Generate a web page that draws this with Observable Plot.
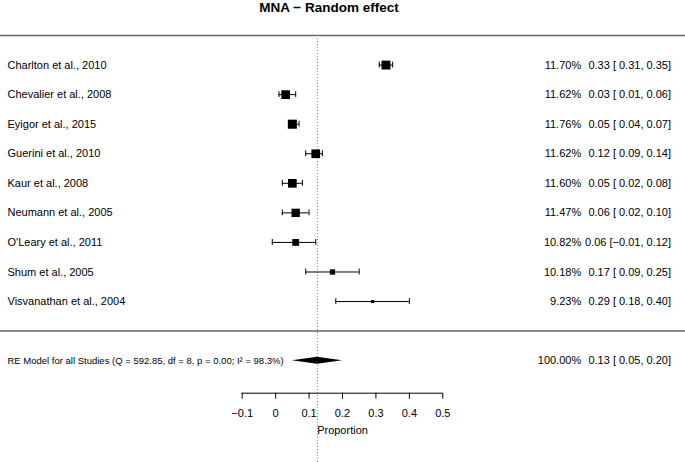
<!DOCTYPE html>
<html>
<head>
<meta charset="utf-8">
<script src="https://cdn.jsdelivr.net/npm/d3@7"></script>
<script src="https://cdn.jsdelivr.net/npm/@observablehq/plot@0.6"></script>
<style>
  body { margin: 0; background: #fff; font-family: "Liberation Sans", Arial, sans-serif; }
  #title { width: 658px; height: 16px; line-height: 16px; text-align: center; font-weight: bold; font-size: 13.5px; color: #000; }
</style>
</head>
<body>
<div id="title">MNA − Random effect</div>
<div id="chart"></div>
<script>
// ---- data ----
const studies = [
  "Charlton et al., 2010",
  "Chevalier et al., 2008",
  "Eyigor et al., 2015",
  "Guerini et al., 2010",
  "Kaur et al., 2008",
  "Neumann et al., 2005",
  "O'Leary et al., 2011",
  "Shum et al., 2005",
  "Visvanathan et al., 2004"
];
const estimates = [0.33, 0.03, 0.05, 0.12, 0.05, 0.06, 0.06, 0.17, 0.29];
const lower     = [0.31, 0.01, 0.04, 0.09, 0.02, 0.02, -0.01, 0.09, 0.18];
const upper     = [0.35, 0.06, 0.07, 0.14, 0.08, 0.10, 0.12, 0.25, 0.40];
const weights   = [11.70, 11.62, 11.76, 11.62, 11.60, 11.47, 10.82, 10.18, 9.23];

const summaryLabel = "RE Model for all Studies (Q = 592.85, df = 8, p = 0.00; I² = 98.3%)";
const summaryEstimate = 0.125;
const summaryLower = 0.05;
const summaryUpper = 0.20;
const summaryWeight = 100;

const xTicks = [-0.1, 0, 0.1, 0.2, 0.3, 0.4, 0.5];
const xLabel = "Proportion";

// ---- derived tables ----
const fmtLow = v => (v < 0 ? "−" : " ") + Math.abs(v).toFixed(2);
const ciText = (e, l, u) => `${e.toFixed(2)} [${fmtLow(l)}, ${u.toFixed(2)}]`;

const rows = studies.map((s, i) => ({
  study: s, row: i + 1, est: estimates[i], lb: lower[i], ub: upper[i], w: weights[i],
  wText: weights[i].toFixed(2) + "%", ci: ciText(estimates[i], lower[i], upper[i])
}));
const summaryRow = studies.length + 2;
const sepRows = [0, studies.length + 1];
const summary = [{
  label: summaryLabel, row: summaryRow,
  wText: summaryWeight.toFixed(2) + "%", ci: ciText(summaryEstimate, summaryLower, summaryUpper)
}];
const diamondHalf = 0.12;
const diamond = [
  {x: summaryLower, y1: summaryRow, y2: summaryRow},
  {x: summaryEstimate, y1: summaryRow - diamondHalf, y2: summaryRow + diamondHalf},
  {x: summaryUpper, y1: summaryRow, y2: summaryRow}
];
const capHalf = 0.1;
const axisRow = 12.1;

const W = 685, H = 446, mTop = 19, mBottom = 69.3;
const font = "'Liberation Sans', Arial, sans-serif";

const chart = Plot.plot({
  width: W, height: H,
  marginTop: mTop, marginBottom: mBottom, marginLeft: 0, marginRight: 0,
  style: {fontFamily: font, fontSize: "11px", color: "#000", background: "#fff"},
  x: {domain: [xTicks[0], xTicks[xTicks.length - 1]], range: [241.7, 442.3]},
  y: {domain: [0, axisRow], reverse: true, axis: null},
  r: {type: "linear", domain: d3.extent(weights), range: [1.7, 5.1]},
  marks: [
    Plot.ruleY(sepRows, {stroke: "#666", strokeWidth: 1.5}),
    Plot.ruleX([summaryEstimate], {stroke: "#888", strokeDasharray: "1,2", insetBottom: -mBottom}),
    Plot.ruleY(rows, {y: "row", x1: "lb", x2: "ub", stroke: "#000"}),
    Plot.ruleX(rows, {x: "lb", y1: d => d.row - capHalf, y2: d => d.row + capHalf, stroke: "#000"}),
    Plot.ruleX(rows, {x: "ub", y1: d => d.row - capHalf, y2: d => d.row + capHalf, stroke: "#000"}),
    Plot.dot(rows, {x: "est", y: "row", r: "w", symbol: "square", fill: "#000", stroke: null}),
    Plot.areaY(diamond, {x: "x", y1: "y1", y2: "y2", fill: "#000", curve: "linear"}),
    Plot.text(rows, {y: "row", text: "study", frameAnchor: "left", textAnchor: "start", dx: 7, fontSize: 11}),
    Plot.text(summary, {y: "row", text: "label", frameAnchor: "left", textAnchor: "start", dx: 7, fontSize: 9.5}),
    Plot.text([...rows, ...summary], {y: "row", text: "wText", frameAnchor: "right", textAnchor: "end", dx: -104.3, fontSize: 11}),
    Plot.text([...rows, ...summary], {y: "row", text: "ci", frameAnchor: "right", textAnchor: "end", dx: -14.5, fontSize: 11}),
    Plot.ruleY([axisRow], {x1: xTicks[0], x2: xTicks[xTicks.length - 1], stroke: "#000"}),
    Plot.axisX({ticks: xTicks, anchor: "bottom", tickSize: 6, tickPadding: 10, fontSize: 11,
      tickFormat: d3.format("~g"), label: null}),
    Plot.text([xLabel], {x: () => (xTicks[0] + xTicks[xTicks.length - 1]) / 2, text: d => d,
      frameAnchor: "bottom", dy: 40.3, fontSize: 11})
  ]
});
document.getElementById("chart").appendChild(chart);
</script>
</body>
</html>
